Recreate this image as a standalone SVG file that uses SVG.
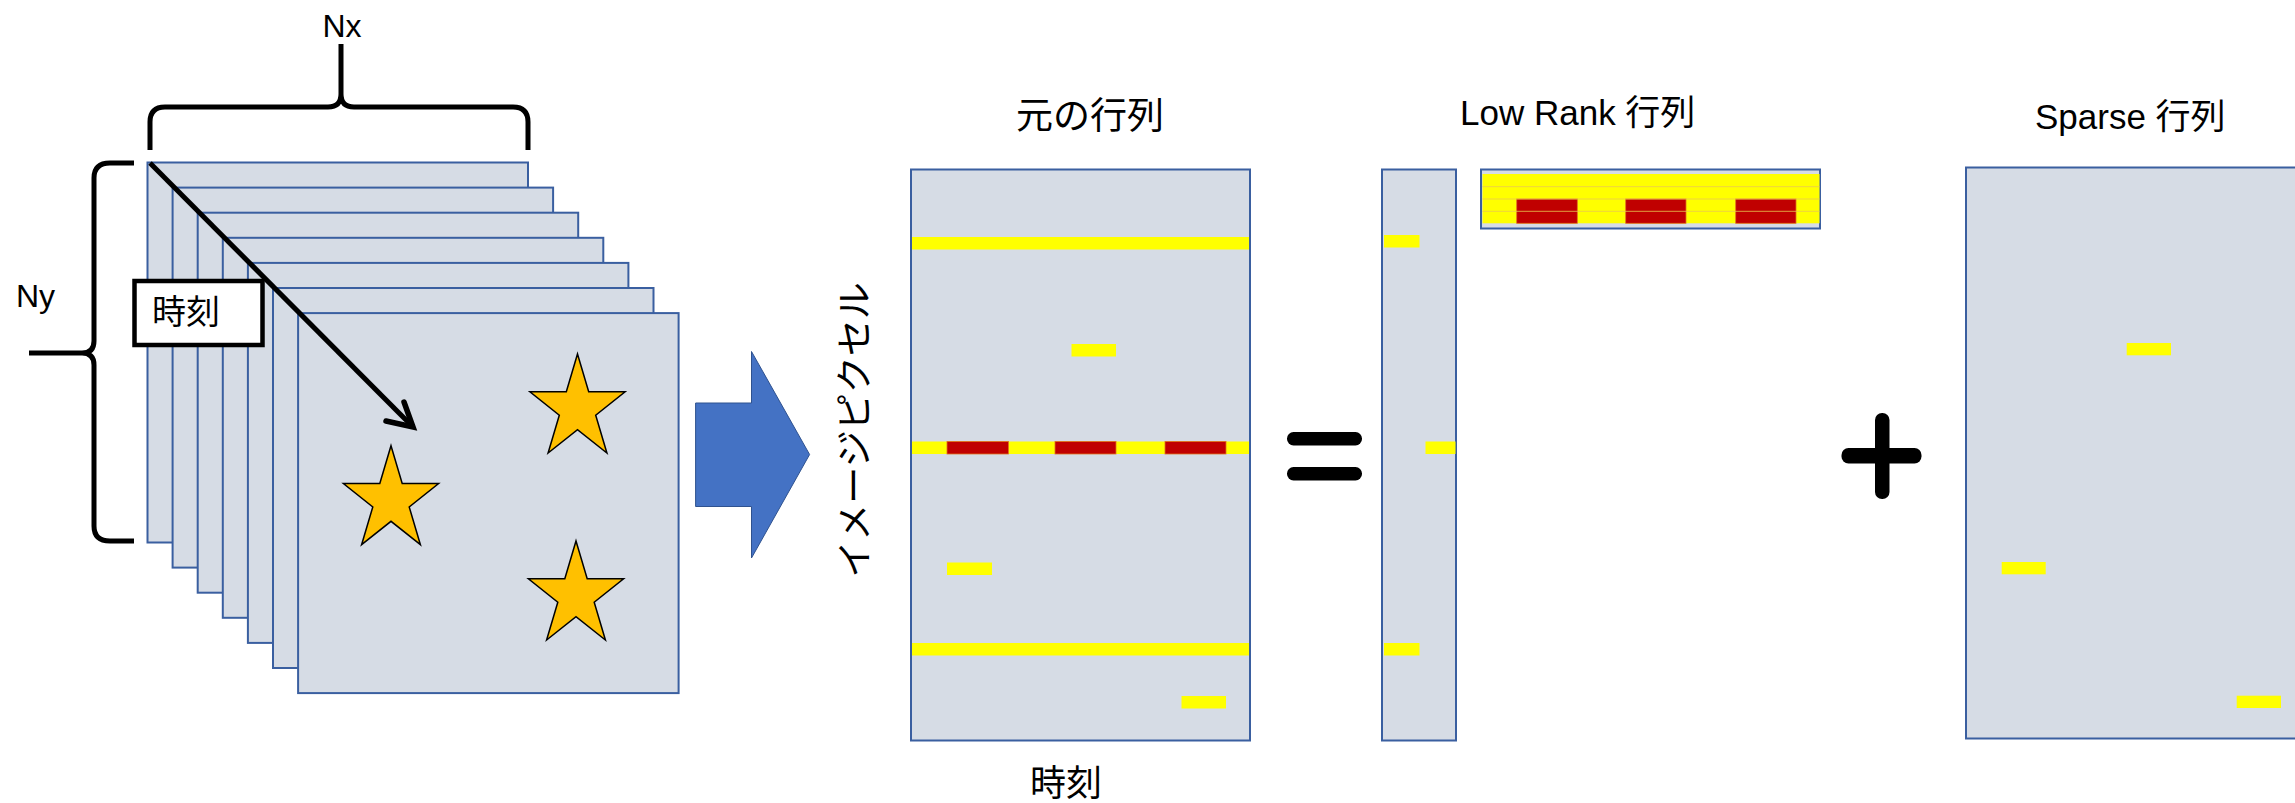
<svg xmlns="http://www.w3.org/2000/svg" width="2295" height="803" viewBox="0 0 2295 803">
<style>
.frame{fill:#D6DCE5;stroke:#3A5FA0;stroke-width:2}
.mat{fill:#D6DCE5;stroke:#3A5FA0;stroke-width:2}
.yel{fill:#FFFF00}
.red{fill:#C00000;stroke:#E07020;stroke-width:0.8}
.star{fill:#FFC000;stroke:#000;stroke-width:1.5;stroke-linejoin:miter}
.brace{fill:none;stroke:#000;stroke-width:5;stroke-linecap:butt;stroke-linejoin:round}
.lat{font-family:"Liberation Sans","Noto Sans CJK JP",sans-serif;fill:#000}
.jp{font-family:"Noto Sans CJK JP","Liberation Sans",sans-serif;fill:#000}
.sym{fill:#000}
</style>
<defs>
<polygon id="starShape" class="star" points="0,-54.7 11.2,-16.9 47.6,-16.9 18.2,6.5 29.4,44.3 0,20.9 -29.4,44.3 -18.2,6.5 -47.6,-16.9 -11.2,-16.9"/>
</defs>
<rect width="2295" height="803" fill="#FFFFFF"/>

<g id="frames">
<rect class="frame" x="147.5" y="162.5" width="380.5" height="380"/>
<rect class="frame" x="172.6" y="187.6" width="380.5" height="380"/>
<rect class="frame" x="197.7" y="212.7" width="380.5" height="380"/>
<rect class="frame" x="222.8" y="237.8" width="380.5" height="380"/>
<rect class="frame" x="247.9" y="262.9" width="380.5" height="380"/>
<rect class="frame" x="273.0" y="288.0" width="380.5" height="380"/>
<rect class="frame" x="298.1" y="313.1" width="380.5" height="380"/>
<use href="#starShape" x="577.5" y="408.7"/>
<use href="#starShape" x="391" y="500.4"/>
<use href="#starShape" x="576" y="595.7"/>
</g>

<g id="brace-nx">
<path class="brace" d="M150,150 V122 Q150,107 165,107 H328 Q341,107 341,94 V44 M341,94 Q341,107 354,107 H513 Q528,107 528,122 V150"/>
<text class="lat" x="342" y="37" font-size="32" text-anchor="middle">Nx</text>
</g>

<g id="brace-ny">
<path class="brace" d="M134,163 H110 Q94,163 94,178 V341 Q94,353 82,353 H29 M82,353 Q94,353 94,365 V526 Q94,541 110,541 H134"/>
<text class="lat" x="16" y="307" font-size="32">Ny</text>
</g>

<g id="connectors">
<path d="M150,163 L411,425" fill="none" stroke="#000" stroke-width="5"/>
<path d="M404,402 L413,427 L386,421" fill="none" stroke="#000" stroke-width="5.5" stroke-linejoin="miter" stroke-linecap="round"/>
</g>

<g id="time-label">
<rect x="134.5" y="281" width="128" height="64" fill="#FFFFFF" stroke="#000" stroke-width="4.5"/>
<text class="jp" x="152" y="324" font-size="34">時刻</text>
</g>

<g id="block-arrow">
<polygon points="695.6,403 751.5,403 751.5,351.5 809.6,454.5 751.5,558 751.5,506.5 695.6,506.5" fill="#4472C4" stroke="#2F528F" stroke-width="1"/>
</g>

<g id="original-matrix">
<text class="jp" x="1090" y="129" font-size="37" text-anchor="middle">元の行列</text>
<rect class="mat" x="911" y="169.5" width="339" height="571"/>
<rect class="yel" x="912" y="237" width="337" height="12.5"/>
<rect class="yel" x="1071.5" y="344" width="44.5" height="12.5"/>
<rect class="yel" x="912" y="441.5" width="337" height="12.5"/>
<rect class="red" x="947" y="441.5" width="61.5" height="12.5"/>
<rect class="red" x="1055" y="441.5" width="61" height="12.5"/>
<rect class="red" x="1165" y="441.5" width="61" height="12.5"/>
<rect class="yel" x="947" y="562.5" width="45" height="12.5"/>
<rect class="yel" x="912" y="643" width="337" height="12.5"/>
<rect class="yel" x="1181.5" y="696" width="44.5" height="12.5"/>
<text class="jp" x="0" y="0" font-size="37" text-anchor="middle" dominant-baseline="central" transform="translate(852,430) rotate(-90)">イメージピクセル</text>
<text class="jp" x="1066" y="796" font-size="36" text-anchor="middle">時刻</text>
</g>

<g id="equals">
<rect class="sym" x="1287" y="432" width="75" height="13.5" rx="6.5"/>
<rect class="sym" x="1287" y="467" width="75" height="13.5" rx="6.5"/>
</g>

<g id="lowrank">
<text class="lat" x="1460" y="125" font-size="35">Low Rank 行列</text>
<rect class="mat" x="1382" y="169.5" width="74" height="571"/>
<rect class="yel" x="1384" y="235" width="35.5" height="12.5"/>
<rect class="yel" x="1425.5" y="441.5" width="30" height="12.5"/>
<rect class="yel" x="1384" y="643" width="35.5" height="12.5"/>
<rect class="mat" x="1481" y="169.5" width="339" height="59"/>
<rect class="yel" x="1482.5" y="174" width="337" height="49.3"/>
<rect class="red" x="1516.7" y="199" width="60.6" height="24.3"/>
<rect class="red" x="1625.7" y="199" width="60.3" height="24.3"/>
<rect class="red" x="1735.7" y="199" width="60.3" height="24.3"/>
<path d="M1482.5,186.7 H1819.5 M1482.5,199 H1819.5 M1482.5,211.3 H1819.5" stroke="#E8C850" stroke-width="0.8" fill="none"/>
</g>

<g id="plus">
<rect class="sym" x="1841.5" y="448" width="80" height="15.5" rx="7"/>
<rect class="sym" x="1875" y="413" width="14.5" height="86" rx="7"/>
</g>

<g id="sparse">
<text class="lat" x="2035" y="129" font-size="35">Sparse 行列</text>
<rect class="mat" x="1966" y="167.5" width="339" height="571"/>
<rect class="yel" x="2126.7" y="343" width="44.3" height="12.3"/>
<rect class="yel" x="2001.7" y="562" width="44" height="12.3"/>
<rect class="yel" x="2236.7" y="695.7" width="44.3" height="12.3"/>
</g>
</svg>
